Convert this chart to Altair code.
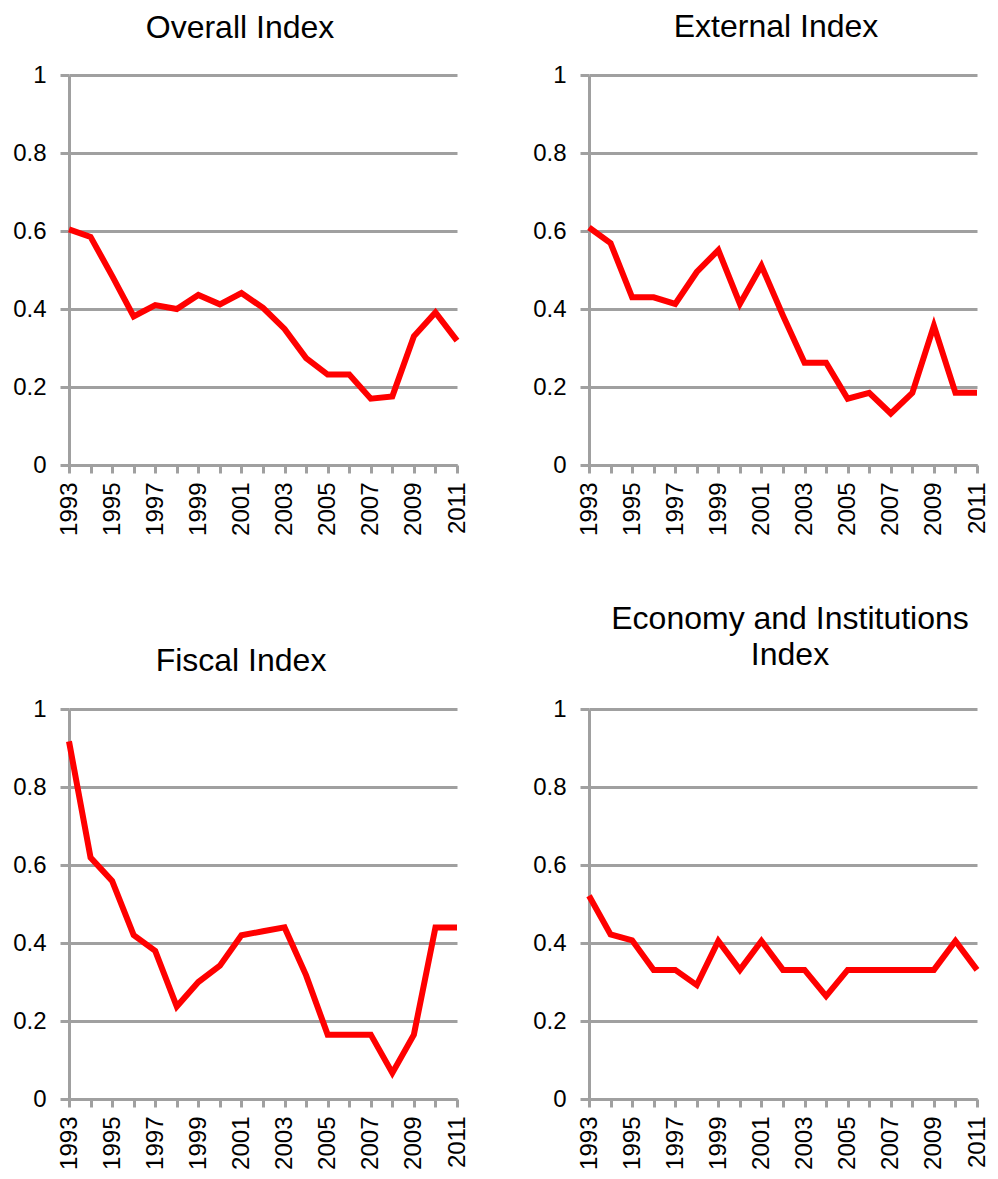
import altair as alt
import pandas as pd

years = list(range(1993, 2012))
overall = [0.604, 0.585, 0.485, 0.381, 0.410, 0.400, 0.436, 0.412, 0.441, 0.403,
           0.349, 0.274, 0.232, 0.232, 0.170, 0.176, 0.330, 0.391, 0.319]
external = [0.609, 0.569, 0.430, 0.430, 0.413, 0.495, 0.551, 0.413, 0.511, 0.383,
            0.262, 0.262, 0.170, 0.185, 0.132, 0.185, 0.357, 0.185, 0.185]
fiscal = [0.917, 0.619, 0.559, 0.420, 0.380, 0.237, 0.300, 0.342, 0.420, 0.430,
          0.440, 0.317, 0.165, 0.165, 0.165, 0.067, 0.165, 0.440, 0.440]
econ = [0.521, 0.422, 0.407, 0.331, 0.331, 0.292, 0.405, 0.331, 0.405, 0.331,
        0.331, 0.264, 0.331, 0.331, 0.331, 0.331, 0.331, 0.405, 0.331]
y_ticks = [0, 0.2, 0.4, 0.6, 0.8, 1]

GRAY = "#A0A0A0"
FONT = "Liberation Sans"


def panel(vals, title, dx, offset, dy):
    df = pd.DataFrame({"year": years, "value": vals})
    return alt.Chart(
        df,
        width=388,
        height=390,
        title=alt.TitleParams(
            text=title, dx=dx, dy=dy, offset=offset, frame="group", anchor="middle",
            fontSize=32, font=FONT, fontWeight="normal", color="black",
            lineHeight=36, baseline="bottom",
        ),
    ).mark_line(color="#FF0000", strokeWidth=6).encode(
        x=alt.X(
            "year:Q",
            scale=alt.Scale(domain=[1993, 2011], nice=False, zero=False),
            axis=alt.Axis(
                values=years,
                labelExpr="datum.value % 2 == 1 ? '' + datum.value : ''",
                labelAngle=270, labelOverlap=False, labelFlush=False,
                tickSize=8, labelPadding=9, title=None, grid=False,
            ),
        ),
        y=alt.Y(
            "value:Q",
            scale=alt.Scale(domain=[0, 1], nice=False),
            axis=alt.Axis(
                values=y_ticks, format=".1~f", tickSize=9, labelPadding=14,
                title=None, grid=True, labelFlush=False,
            ),
        ),
    )


p1 = panel(overall, "Overall Index", -23, 30, 44)
p2 = panel(external, "External Index", -7, 31, 44)
p3 = panel(fiscal, "Fiscal Index", -22, 32, 45)
p4 = panel(econ, ["Economy and Institutions", "Index"], 7, 39, 46)

chart = alt.concat(
    p1, p2, p3, p4, columns=2, spacing={"row": 244, "column": 132}, bounds="flush"
).properties(
    padding={"left": 4, "top": 3, "right": 0, "bottom": 0}
).configure_axis(
    labelFont=FONT, labelFontSize=24, labelColor="black",
    tickColor=GRAY, tickWidth=3, domainColor=GRAY, domainWidth=3,
    gridColor=GRAY, gridWidth=3,
).configure_view(stroke=None)

chart.save("out.html", embed_options={"renderer": "svg", "actions": False})
